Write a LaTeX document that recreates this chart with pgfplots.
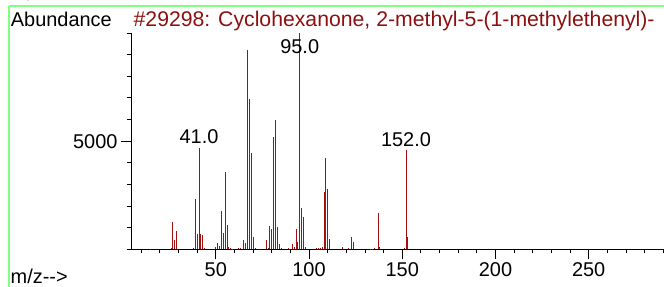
\documentclass[border=0pt]{standalone}
\usepackage{fontspec}
\setmainfont{Liberation Sans}
\usepackage{pgfplots}
\pgfplotsset{compat=1.18}
\definecolor{peak}{RGB}{165,15,15}
\definecolor{ttl}{RGB}{140,16,16}
\definecolor{frame}{RGB}{128,255,128}
\begin{document}
\begin{tikzpicture}
\useasboundingbox (-131bp,-37.7bp) rectangle (533bp,249.3bp);
\begin{axis}[
 at={(0,0)}, anchor=south west,
 scale only axis, width=533bp, height=216.3bp,
 xmin=4.5, xmax=290.4, ymin=0, ymax=10000,
 axis lines*=left,
 axis line style={line width=0.8bp, black, -},
 xtick={50,100,150,200,250},
 xticklabels={50,100,150,200,250},
 minor xtick={10,20,...,290},
 ytick={5000},
 yticklabels={5000},
 minor ytick={0,1000,...,10000},
 tick align=outside,
 major tick length=10bp, minor tick length=4bp,
 tick style={line width=0.8bp, black},
 tick label style={font=\fontsize{20}{24}\selectfont},
 /pgf/number format/assume math mode=true,
 scaled y ticks=false,
 clip=false,
]
\addplot[ycomb, peak, line width=0.9bp, no markers] coordinates {
(15,30) (26,60) (27,1280) (28,430) (29,860)
(38,60) (39,2310) (40,710) (41,4680) (42,700) (43,680) (44,50)
(50,100) (51,310) (52,150) (53,1770) (54,740) (55,3580) (56,1140) (57,120) (58,40) (59,30)
(62,40) (63,80) (65,430) (66,300) (67,9200) (68,6970) (69,4430) (70,550) (71,60) (74,30)
(77,430) (78,60) (79,1080) (80,940) (81,5170) (82,6000) (83,1050) (84,250) (85,40) (89,40)
(91,250) (92,120) (93,940) (94,350) (95,9990) (96,1890) (97,1490) (98,100)
(104,40) (105,60) (106,50) (107,120) (108,2660) (109,4215) (110,2800) (111,460)
(118,100) (121,80) (123,570) (124,340) (133,30) (134,30) (135,40) (137,1690) (138,120)
(151,60) (152,4580) (153,550)
};
\node[anchor=base, inner sep=0, font=\fontsize{20}{24}\selectfont] at (axis cs:41,4890) {41.0};
\node[anchor=base, inner sep=0, font=\fontsize{20}{24}\selectfont] at (axis cs:95,9050) {95.0};
\node[anchor=base, inner sep=0, font=\fontsize{20}{24}\selectfont] at (axis cs:152,4770) {152.0};
\end{axis}
\draw[frame, line width=1.3bp] (-122bp,243.3bp) -- (533bp,243.3bp);
\draw[frame, line width=1.3bp] (-122bp,243.3bp) -- (-122bp,-37.7bp);
\node[anchor=base west, inner sep=0, font=\fontsize{20}{24}\selectfont] at (-120.3bp,222.8bp) {Abundance};
\node[anchor=base west, inner sep=0, font=\fontsize{21.3}{25}\selectfont, text=ttl] at (2.5bp,222.8bp) {\#29298: Cyclohexanone, 2-methyl-5-(1-methylethenyl)-};
\node[anchor=base west, inner sep=0, font=\fontsize{20}{24}\selectfont] at (-120.5bp,-33.7bp) {m/z-{}-{}>};
\node[overlay, anchor=base west, inner sep=0, font=\fontsize{20}{24}\selectfont] at (-120.5bp,248.3bp) {m/z-{}-{}>};
\end{tikzpicture}
\end{document}
